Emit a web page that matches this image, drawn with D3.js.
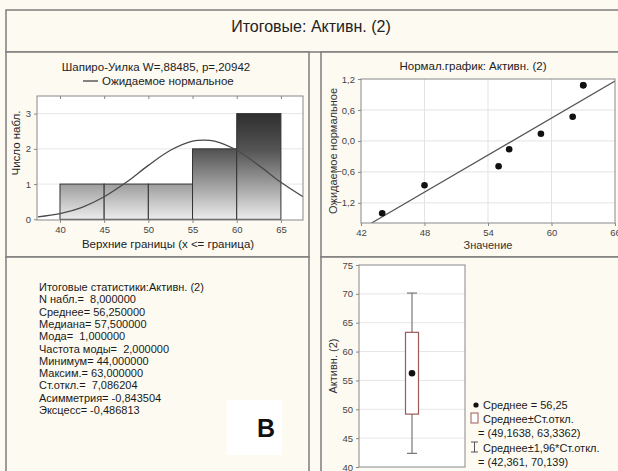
<!DOCTYPE html>
<html>
<head>
<meta charset="utf-8">
<script src="https://cdn.jsdelivr.net/npm/d3@7"></script>
<style>
  body { margin: 0; background: #fdfaf2; }
  svg { display: block; font-family: "Liberation Sans", Arial, sans-serif; }
  text { white-space: pre; }
</style>
</head>
<body>
<svg id="chart" width="618" height="471"></svg>
<script>
// histogram data (bin starts, width 5, + counts)
const binStarts = [40, 45, 50, 55, 60];
const binCounts = [1, 1, 1, 2, 3];
const histTicksX = [40, 45, 50, 55, 60, 65];
const histTicksY = [0, 1, 2, 3];
// expected normal curve
const curveX = [37.5, 40, 42.5, 45, 47.5, 50, 52.5, 55, 56.25, 57.5, 60, 62.5, 65, 67.5];
const curveY = [0.07, 0.16, 0.34, 0.64, 1.05, 1.53, 1.96, 2.22, 2.25, 2.22, 1.96, 1.53, 1.05, 0.64];

// normal probability plot
const obsValues = [44, 48, 55, 56, 59, 62, 63, 63];
const expectedNormal = [-1.40, -0.86, -0.49, -0.16, 0.14, 0.47, 1.08, 1.08];
const fitLineX = [43.0, 66];
const fitLineY = [-1.59, 1.16];
const normTicksX = [42, 48, 54, 60, 66];
const normTicksY = [-1.2, -0.6, 0.0, 0.6, 1.2];

// box plot (mean, ±SD, ±1.96 SD)
const boxMean = 56.25;
const boxSd = [49.1638, 63.3362];
const boxCi = [42.361, 70.139];
const boxTicksY = [40, 45, 50, 55, 60, 65, 70, 75];

const statLines = [
  "Итоговые статистики:Активн. (2)",
  "N набл.=  8,000000",
  "Среднее= 56,250000",
  "Медиана= 57,500000",
  "Мода=  1,000000",
  "Частота моды=  2,000000",
  "Минимум= 44,000000",
  "Максим.= 63,000000",
  "Ст.откл.=  7,086204",
  "Асимметрия= -0,843504",
  "Эксцесс= -0,486813"
];

const legendLines = [
  "Среднее = 56,25",
  "Среднее±Ст.откл.",
  "= (49,1638, 63,3362)",
  "Среднее±1,96*Ст.откл.",
  "= (42,361, 70,139)"
];

const svg = d3.select("#chart");
const bg = "#fdfaf2";
const frame = "#7d7d7d";
const comma = v => d3.format(".1f")(v).replace(".", ",");

svg.append("rect").attr("width", 618).attr("height", 471).attr("fill", bg);

// panel frames
const panels = [
  [6, 10, 620, 42],
  [6, 52, 303, 205],
  [6, 257, 303, 220],
  [321, 52, 300, 205],
  [321, 257, 300, 220]
];
panels.forEach(p => {
  svg.append("rect")
    .attr("x", p[0]).attr("y", p[1]).attr("width", p[2]).attr("height", p[3])
    .attr("fill", bg).attr("stroke", frame).attr("stroke-width", 1.5);
});

svg.append("text").attr("x", 311).attr("y", 32).attr("text-anchor", "middle")
  .attr("font-size", 16).attr("fill", "#222").text("Итоговые: Активн. (2)");

// ---------- histogram ----------
const hx = d3.scaleLinear().domain([37.4, 67.5]).range([37, 303]);
const hy = d3.scaleLinear().domain([-0.02, 3.5]).range([220, 96]);

const defs = svg.append("defs");
const grad = defs.append("linearGradient").attr("id", "barGrad")
  .attr("gradientUnits", "userSpaceOnUse")
  .attr("x1", 0).attr("x2", 0).attr("y1", hy(3)).attr("y2", hy(0));
[[0, "#2e2e2e"], [0.35, "#555"], [0.66, "#9c9c9c"], [1, "#ececec"]].forEach(s => {
  grad.append("stop").attr("offset", s[0]).attr("stop-color", s[1]);
});
defs.append("clipPath").attr("id", "histClip").append("rect")
  .attr("x", 37).attr("y", 96).attr("width", 266).attr("height", 124);
defs.append("clipPath").attr("id", "normClip").append("rect")
  .attr("x", 361).attr("y", 79).attr("width", 254).attr("height", 144);

const hg = svg.append("g");
hg.append("rect").attr("x", 37).attr("y", 96).attr("width", 266).attr("height", 124).attr("fill", "#fff");
hg.selectAll(".hgrid").data(histTicksY.slice(1)).join("line")
  .attr("x1", 37).attr("x2", 303).attr("y1", d => hy(d)).attr("y2", d => hy(d))
  .attr("stroke", "#e6e6e6");

hg.selectAll(".bar").data(binStarts).join("rect")
  .attr("x", d => hx(d)).attr("width", d => hx(d + 5) - hx(d))
  .attr("y", (d, i) => hy(binCounts[i])).attr("height", (d, i) => hy(0) - hy(binCounts[i]))
  .attr("fill", "url(#barGrad)").attr("stroke", "#333").attr("stroke-width", 1);

hg.append("path").datum(curveX.map((x, i) => [x, curveY[i]]))
  .attr("clip-path", "url(#histClip)")
  .attr("d", d3.line().x(d => hx(d[0])).y(d => hy(d[1])).curve(d3.curveCatmullRom))
  .attr("fill", "none").attr("stroke", "#4a4a4a").attr("stroke-width", 1.3);

hg.append("rect").attr("x", 37).attr("y", 96).attr("width", 266).attr("height", 124)
  .attr("fill", "none").attr("stroke", "#888");

const hAxisX = hg.append("g").attr("transform", "translate(0,220)")
  .call(d3.axisBottom(hx).tickValues(histTicksX).tickFormat(d3.format("d")).tickSize(3).tickPadding(3));
const hAxisY = hg.append("g").attr("transform", "translate(37,0)")
  .call(d3.axisLeft(hy).tickValues(histTicksY).tickFormat(d3.format("d")).tickSize(3).tickPadding(3));
hg.append("g").attr("transform", "translate(0,96)")
  .call(d3.axisTop(hx).tickValues(histTicksX).tickSize(-3).tickFormat(""))
  .call(g => g.select(".domain").remove());
[hAxisX, hAxisY].forEach(a => {
  a.select(".domain").remove();
  a.selectAll("text").attr("font-size", 9.5).attr("fill", "#444").attr("font-family", "Liberation Sans, Arial");
});
hg.selectAll(".tick line").attr("stroke", "#888");

hg.append("text").attr("x", 156).attr("y", 71).attr("text-anchor", "middle")
  .attr("font-size", 11.5).attr("fill", "#222").text("Шапиро-Уилка W=,88485, p=,20942");
hg.append("line").attr("x1", 83).attr("x2", 98).attr("y1", 81).attr("y2", 81)
  .attr("stroke", "#333").attr("stroke-width", 1.2);
hg.append("text").attr("x", 102).attr("y", 85).attr("font-size", 11.5).attr("fill", "#222")
  .text("Ожидаемое нормальное");
hg.append("text").attr("x", 168).attr("y", 248).attr("text-anchor", "middle")
  .attr("font-size", 11.5).attr("fill", "#222").text("Верхние границы (x <= граница)");
hg.append("text").attr("transform", "translate(20,143) rotate(-90)").attr("text-anchor", "middle")
  .attr("font-size", 11.5).attr("fill", "#222").text("Число набл.");

// ---------- normal probability plot ----------
const nx = d3.scaleLinear().domain([42, 66]).range([361, 615]);
const ny = d3.scaleLinear().domain([-1.59, 1.2]).range([223, 79]);
const ng = svg.append("g");
ng.append("rect").attr("x", 361).attr("y", 79).attr("width", 254).attr("height", 144).attr("fill", "#fff");
ng.selectAll(".vg").data(normTicksX.slice(1, -1)).join("line")
  .attr("x1", d => nx(d)).attr("x2", d => nx(d)).attr("y1", 79).attr("y2", 223).attr("stroke", "#e3e3e3");
ng.selectAll(".hg").data(normTicksY.slice(0, -1)).join("line")
  .attr("x1", 361).attr("x2", 615).attr("y1", d => ny(d)).attr("y2", d => ny(d)).attr("stroke", "#e3e3e3");
ng.append("line").attr("clip-path", "url(#normClip)")
  .attr("x1", nx(fitLineX[0])).attr("y1", ny(fitLineY[0]))
  .attr("x2", nx(fitLineX[1])).attr("y2", ny(fitLineY[1]))
  .attr("stroke", "#555").attr("stroke-width", 1.2);
ng.selectAll(".pt").data(obsValues).join("circle")
  .attr("cx", d => nx(d)).attr("cy", (d, i) => ny(expectedNormal[i])).attr("r", 3.3)
  .attr("fill", "#111");
ng.append("rect").attr("x", 361).attr("y", 79).attr("width", 254).attr("height", 144)
  .attr("fill", "none").attr("stroke", "#888");
const nAxisX = ng.append("g").attr("transform", "translate(0,223)")
  .call(d3.axisBottom(nx).tickValues(normTicksX).tickFormat(d3.format("d")).tickSize(3).tickPadding(3));
const nAxisY = ng.append("g").attr("transform", "translate(361,0)")
  .call(d3.axisLeft(ny).tickValues(normTicksY).tickFormat(comma).tickSize(3).tickPadding(3));
[nAxisX, nAxisY].forEach(a => {
  a.select(".domain").remove();
  a.selectAll("text").attr("font-size", 9.5).attr("fill", "#444").attr("font-family", "Liberation Sans, Arial");
  a.selectAll(".tick line").attr("stroke", "#888");
});
ng.append("text").attr("x", 473).attr("y", 70).attr("text-anchor", "middle")
  .attr("font-size", 11.5).attr("fill", "#222").text("Нормал.график: Активн. (2)");
ng.append("text").attr("x", 488).attr("y", 249).attr("text-anchor", "middle")
  .attr("font-size", 11).attr("fill", "#333").text("Значение");
ng.append("text").attr("transform", "translate(337,151) rotate(-90)").attr("text-anchor", "middle")
  .attr("font-size", 11).attr("fill", "#333").text("Ожидаемое нормальное");

// ---------- summary statistics text ----------
const tg = svg.append("g");
tg.selectAll("text").data(statLines).join("text")
  .attr("x", 39).attr("y", (d, i) => 291 + i * 12.3)
  .attr("xml:space", "preserve")
  .attr("font-size", 11).attr("fill", "#1a1a1a").text(d => d);
tg.append("rect").attr("x", 227).attr("y", 400).attr("width", 55).attr("height", 55).attr("fill", "#fff");
tg.append("text").attr("x", 266).attr("y", 437).attr("text-anchor", "middle")
  .attr("font-size", 25).attr("font-weight", "bold").attr("fill", "#111").text("В");

// ---------- box plot ----------
const by = d3.scaleLinear().domain([40, 75]).range([467, 265]);
const bcx = 412;
const bgp = svg.append("g");
bgp.append("rect").attr("x", 359).attr("y", 265).attr("width", 106).attr("height", 202).attr("fill", "#fff");
bgp.selectAll(".bgrid").data(boxTicksY.slice(1, -1)).join("line")
  .attr("x1", 359).attr("x2", 465).attr("y1", d => by(d)).attr("y2", d => by(d)).attr("stroke", "#e6e6e6");
bgp.append("line").attr("x1", bcx).attr("x2", bcx).attr("y1", by(boxCi[0])).attr("y2", by(boxCi[1]))
  .attr("stroke", "#777").attr("stroke-width", 1.2);
boxCi.forEach(v => {
  bgp.append("line").attr("x1", bcx - 5).attr("x2", bcx + 5).attr("y1", by(v)).attr("y2", by(v))
    .attr("stroke", "#777").attr("stroke-width", 1.2);
});
bgp.append("rect").attr("x", bcx - 6.5).attr("width", 13)
  .attr("y", by(boxSd[1])).attr("height", by(boxSd[0]) - by(boxSd[1]))
  .attr("fill", "#fff").attr("stroke", "#9c5a5a").attr("stroke-width", 1.2);
bgp.append("circle").attr("cx", bcx).attr("cy", by(boxMean)).attr("r", 3.3).attr("fill", "#111");
bgp.append("rect").attr("x", 359).attr("y", 265).attr("width", 106).attr("height", 202)
  .attr("fill", "none").attr("stroke", "#888");
const bAxis = bgp.append("g").attr("transform", "translate(359,0)")
  .call(d3.axisLeft(by).tickValues(boxTicksY).tickFormat(d3.format("d")).tickSize(3).tickPadding(3));
bAxis.select(".domain").remove();
bAxis.selectAll("text").attr("font-size", 9.5).attr("fill", "#444").attr("font-family", "Liberation Sans, Arial");
bAxis.selectAll(".tick line").attr("stroke", "#888");
bgp.append("text").attr("transform", "translate(337,366) rotate(-90)").attr("text-anchor", "middle")
  .attr("font-size", 11).attr("fill", "#333").text("Активн. (2)");

// legend
const lg = svg.append("g").attr("font-size", 11).attr("fill", "#1a1a1a");
const legendX = [483, 483, 478, 483, 478];
lg.selectAll("text").data(legendLines).join("text")
  .attr("x", (d, i) => legendX[i]).attr("y", (d, i) => 409 + i * 14.2).text(d => d);
lg.append("circle").attr("cx", 476).attr("cy", 405).attr("r", 2.6).attr("fill", "#111");
lg.append("rect").attr("x", 471).attr("y", 413).attr("width", 7).attr("height", 10)
  .attr("fill", "#fff").attr("stroke", "#9c5a5a");
lg.append("path").attr("d", "M471,442H478M474.5,442V452M471,452H478").attr("stroke", "#555").attr("fill", "none");
</script>
</body>
</html>
